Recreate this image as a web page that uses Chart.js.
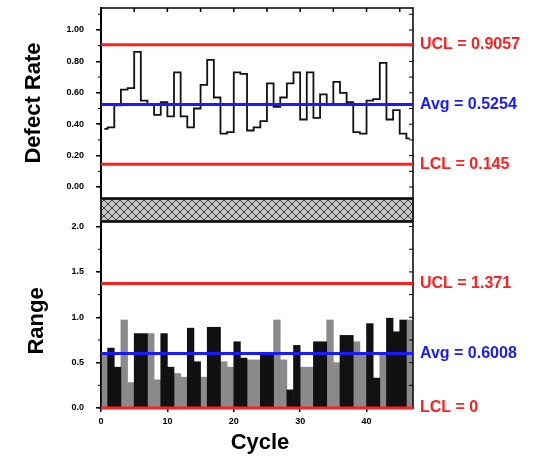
<!DOCTYPE html>
<html>
<head>
<meta charset="utf-8">
<script src="https://cdn.jsdelivr.net/npm/chart.js@4.4.1/dist/chart.umd.min.js"></script>
<style>
  html, body { margin: 0; padding: 0; background: #fff; }
  #wrap { position: relative; width: 538px; height: 460px; }
  #wrap canvas { position: absolute; left: 0; top: 0; }
</style>
</head>
<body>
<div id="wrap">
  <canvas id="rangeChart" width="538" height="460"></canvas>
  <canvas id="defectChart" width="538" height="460"></canvas>
</div>
<script>
// datos
const cycles = [1, 2, 3, 4, 5, 6, 7, 8, 9, 10, 11, 12, 13, 14, 15, 16, 17, 18, 19, 20, 21, 22, 23, 24,
  25, 26, 27, 28, 29, 30, 31, 32, 33, 34, 35, 36, 37, 38, 39, 40, 41, 42, 43, 44, 45, 46, 47];

const defectRate = [0.37, 0.38, 0.52, 0.62, 0.63, 0.86, 0.55, 0.53, 0.46, 0.54, 0.45, 0.73, 0.45, 0.38,
  0.50, 0.65, 0.81, 0.57, 0.34, 0.35, 0.73, 0.72, 0.36, 0.38, 0.42, 0.66, 0.51, 0.57, 0.66, 0.73, 0.43,
  0.73, 0.44, 0.59, 0.53, 0.67, 0.60, 0.54, 0.35, 0.34, 0.55, 0.56, 0.79, 0.43, 0.49, 0.34, 0.31];

const rangeBlack = [null, 0.66, 0.45, null, null, 0.82, 0.82, null, null, 0.82,
  0.45, null, null, 0.88, 0.51, null, 0.89, 0.89, null, null,
  0.73, 0.55, null, null, 0.60, 0.60, null, null, 0.20, 0.69,
  null, null, 0.73, 0.73, null, null, 0.80, 0.80, null, null,
  0.93, 0.33, null, 0.99, 0.84, 0.97, null];

const rangeGray = [0.58, null, null, 0.97, 0.28, null, null, 0.82, 0.31, null,
  null, 0.38, 0.34, null, null, 0.34, null, null, 0.51, 0.45,
  null, null, 0.53, 0.53, null, null, 0.97, 0.53, null, null,
  0.45, 0.45, null, null, 0.97, 0.50, null, null, 0.73, 0.58,
  null, null, 0.58, null, null, null, 0.97];

const limitNames = ['UCL', 'Avg', 'LCL'];
const defectLimits = [0.9057, 0.5254, 0.145];
const rangeLimits = [1.371, 0.6008, 0];

const defectTicks = [0, 0.2, 0.4, 0.6, 0.8, 1.0];
const rangeTicks = [0, 0.5, 1.0, 1.5, 2.0];
const cycleTicks = [0, 10, 20, 30, 40];

const tickFont = { family: 'Liberation Sans', size: 9, weight: 'bold' };
const titleFont = 'bold 22px "Liberation Sans"';
const limitFont = 'bold 16px "Liberation Sans"';

const fixY = s => { s.width = 101; s.paddingTop = 0; s.paddingBottom = 0; };

const drawFrame = (chart) => {
    const { ctx, chartArea: a } = chart;
    ctx.save();
    ctx.strokeStyle = '#000';
    ctx.lineWidth = 1.5;
    ctx.strokeRect(a.left, a.top, a.right - a.left, a.bottom - a.top);
    ctx.restore();
};

// marcas pequeñas en el borde derecho e izquierdo
const drawMinorTicks = (chart, step, top) => {
    const { ctx, chartArea: a, scales: { y } } = chart;
    ctx.save();
    ctx.strokeStyle = '#000';
    ctx.lineWidth = 1;
    ctx.beginPath();
    for (let v = 0; v <= top + 1e-9; v += step) {
        const py = y.getPixelForValue(v);
        ctx.moveTo(a.right, py); ctx.lineTo(a.right - 4, py);
        ctx.moveTo(a.left, py); ctx.lineTo(a.left - 3, py);
    }
    ctx.stroke();
    ctx.restore();
};

const drawLimits = (chart, values) => {
    const { ctx, chartArea: a, scales: { y } } = chart;
    ctx.save();
    values.forEach((v, i) => {
        const py = y.getPixelForValue(v);
        const col = limitNames[i] === 'Avg' ? '#1a1aff' : '#ff1f1f';
        ctx.strokeStyle = col;
        ctx.lineWidth = 3;
        ctx.beginPath();
        ctx.moveTo(a.left, py);
        ctx.lineTo(a.right, py);
        ctx.stroke();
        ctx.fillStyle = col;
        ctx.font = limitFont;
        ctx.textAlign = 'left';
        ctx.textBaseline = 'middle';
        ctx.fillText(limitNames[i] + ' = ' + v, a.right + 7, py);
    });
    ctx.restore();
};

const drawVTitle = (ctx, text, x, y) => {
    ctx.save();
    ctx.translate(x, y);
    ctx.rotate(-Math.PI / 2);
    ctx.fillStyle = '#000';
    ctx.font = titleFont;
    ctx.textAlign = 'center';
    ctx.textBaseline = 'middle';
    ctx.fillText(text, 0, 0);
    ctx.restore();
};

const decorTop = {
    id: 'decorTop',
    afterDraw(chart) {
        const { ctx, chartArea: a, scales: { xt } } = chart;
        drawFrame(chart);
        drawMinorTicks(chart, 0.1, 1.1);
        ctx.save();
        ctx.strokeStyle = '#000';
        ctx.lineWidth = 1.5;
        ctx.beginPath();
        for (let v = 5; v < 47; v += 5) {
            const px = xt.getPixelForValue(v);
            ctx.moveTo(px, a.top); ctx.lineTo(px, a.top + 4);
        }
        ctx.stroke();
        ctx.restore();
        drawLimits(chart, defectLimits);
        drawVTitle(ctx, 'Defect Rate', 34, 103);
    }
};

const decorBottom = {
    id: 'decorBottom',
    afterDraw(chart) {
        const { ctx, chartArea: a } = chart;
        // banda rayada del corte de eje
        const pat = document.createElement('canvas');
        pat.width = 8; pat.height = 8;
        const p = pat.getContext('2d');
        p.fillStyle = '#c6c6c6';
        p.fillRect(0, 0, 8, 8);
        p.strokeStyle = '#3c3c3c';
        p.lineWidth = 1;
        p.beginPath();
        p.moveTo(0, 8); p.lineTo(8, 0);
        p.moveTo(0, 0); p.lineTo(8, 8);
        p.stroke();
        ctx.save();
        ctx.fillStyle = ctx.createPattern(pat, 'repeat');
        ctx.fillRect(a.left, a.top - 23, a.right - a.left, 22);
        ctx.strokeStyle = '#222';
        ctx.lineWidth = 2;
        ctx.strokeRect(a.left, a.top - 23, a.right - a.left, 22);
        ctx.restore();

        drawFrame(chart);
        drawMinorTicks(chart, 0.25, 2.0);
        drawLimits(chart, rangeLimits);
        drawVTitle(ctx, 'Range', 37, 321);
        ctx.save();
        ctx.fillStyle = '#000';
        ctx.font = titleFont;
        ctx.textAlign = 'center';
        ctx.textBaseline = 'middle';
        ctx.fillText('Cycle', 260, 443);
        ctx.restore();
    }
};

const yGrid = { display: true, drawOnChartArea: false, drawTicks: true, tickLength: 5, color: '#000', lineWidth: 1.5 };

new Chart(document.getElementById('rangeChart'), {
    type: 'bar',
    data: {
        labels: cycles,
        datasets: [{
            label: 'Range A',
            data: rangeBlack,
            backgroundColor: '#111',
            grouped: false,
            categoryPercentage: 1,
            barPercentage: 1,
            xAxisID: 'x',
            yAxisID: 'y'
        }, {
            label: 'Range B',
            data: rangeGray,
            backgroundColor: '#8a8a8a',
            grouped: false,
            categoryPercentage: 1,
            barPercentage: 1,
            xAxisID: 'x',
            yAxisID: 'y'
        }]
    },
    options: {
        responsive: false,
        animation: false,
        events: [],
        layout: { padding: { top: 222, right: 125, bottom: 0, left: 0 } },
        plugins: { legend: { display: false }, tooltip: { enabled: false } },
        scales: {
            x: { type: 'category', display: false, offset: true },
            x2: {
                type: 'linear',
                position: 'bottom',
                offset: false,
                min: 0,
                max: 47,
                afterBuildTicks: s => { s.ticks = cycleTicks.map(v => ({ value: v })); },
                afterFit: s => { s.height = 52; s.paddingLeft = 0; s.paddingRight = 0; },
                ticks: { font: tickFont, color: '#000', padding: 4, callback: v => String(v) },
                grid: { display: true, offset: false, drawOnChartArea: false, tickLength: 4, color: '#000', lineWidth: 1.5 },
                border: { display: true, color: '#000', width: 1.5 }
            },
            y: {
                min: 0,
                max: 2.05,
                afterBuildTicks: s => { s.ticks = rangeTicks.map(v => ({ value: v })); },
                afterFit: fixY,
                ticks: { font: tickFont, color: '#000', padding: 12, callback: v => Number(v).toFixed(1) },
                grid: yGrid,
                border: { display: true, color: '#000', width: 2 }
            }
        }
    },
    plugins: [decorBottom]
});

new Chart(document.getElementById('defectChart'), {
    type: 'line',
    data: {
        labels: cycles,
        datasets: [{
            label: 'Defect Rate',
            data: defectRate,
            borderColor: '#111',
            borderWidth: 1.8,
            stepped: 'middle',
            pointRadius: 0,
            fill: false,
            xAxisID: 'x',
            yAxisID: 'y'
        }]
    },
    options: {
        responsive: false,
        animation: false,
        events: [],
        layout: { padding: { top: 8, right: 125, bottom: 262, left: 0 } },
        plugins: { legend: { display: false }, tooltip: { enabled: false } },
        scales: {
            x: { type: 'category', display: false, offset: true },
            xt: { type: 'linear', display: false, offset: false, min: 0, max: 47 },
            y: {
                min: -0.07,
                max: 1.14,
                afterBuildTicks: s => { s.ticks = defectTicks.map(v => ({ value: v })); },
                afterFit: fixY,
                ticks: { font: tickFont, color: '#000', padding: 12, callback: v => Number(v).toFixed(2) },
                grid: yGrid,
                border: { display: true, color: '#000', width: 2 }
            }
        }
    },
    plugins: [decorTop]
});
</script>
</body>
</html>
